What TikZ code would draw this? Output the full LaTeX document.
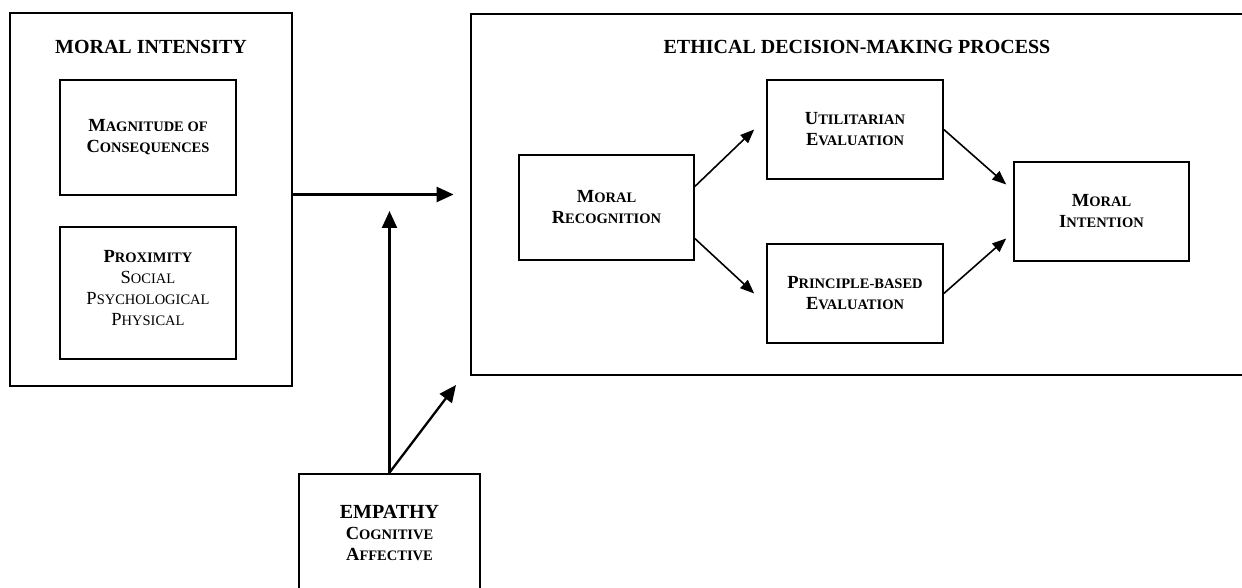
\documentclass[tikz,border=0pt]{standalone}
\usepackage{fontspec}
\setmainfont{Liberation Serif}
\usepackage{tikz}
\usetikzlibrary{arrows.meta}
\usetikzlibrary{positioning}

% fake small caps: first letter full size, rest smaller
\newcommand{\fsc}[2]{#1{\fontsize{14.5}{21}\selectfont #2}}

\begin{document}
\begin{tikzpicture}[x=1pt, y=-1pt, semithick]
  \tikzstyle{frame}=[draw, line width=2.8pt, inner sep=0pt]
  \tikzstyle{box}=[draw, line width=1.6pt, inner sep=0pt, align=center, minimum width=176pt,
                   font=\bfseries\fontsize{18.5}{21}\selectfont]
  \tikzstyle{heading}=[font=\bfseries\fontsize{20}{21}\selectfont, inner sep=0pt]
  \tikzstyle{bigarrow}=[-{Triangle[length=17pt,width=15pt]}, line width=2.3pt]
  \tikzstyle{smallarrow}=[-{Triangle[length=14pt,width=11pt]}, line width=1.6pt]

  \useasboundingbox (0,0) rectangle (1242,588);

  % moral intensity
  \node[frame, minimum width=282pt, minimum height=373pt] (intensity) at (151,199.5) {};
  \node[heading] (intitle) at (151,47) {MORAL INTENSITY};
  \node[box, minimum height=115pt] (magnitude) at (148,137.5) {\fsc{M}{AGNITUDE OF}\\\fsc{C}{ONSEQUENCES}};
  \node[box, minimum height=132pt] (proximity) at (148,293)
    {\fsc{P}{ROXIMITY}\\\mdseries\fsc{S}{OCIAL}\\\mdseries\fsc{P}{SYCHOLOGICAL}\\\mdseries\fsc{P}{HYSICAL}\\[-10pt]};

  % ethical decision-making process
  \node[frame, minimum width=800pt, minimum height=361pt] (process) at (871,194.5) {};
  \node[heading] (proctitle) at (857,47) {ETHICAL DECISION-MAKING PROCESS};
  \node[box, minimum width=175pt, minimum height=105pt] (recog) at (606.5,207.5) {\fsc{M}{ORAL}\\\fsc{R}{ECOGNITION}};
  \node[box, minimum height=99pt] (util) at (855,129.5) {\fsc{U}{TILITARIAN}\\\fsc{E}{VALUATION}};
  \node[box, minimum height=99pt] (principle) at (855,293.5) {\fsc{P}{RINCIPLE-BASED}\\\fsc{E}{VALUATION}};
  \node[box, minimum width=175pt, minimum height=99pt] (intention) at (1101.5,211.5) {\fsc{M}{ORAL}\\\fsc{I}{NTENTION}};

  % empathy
  \node[frame, minimum width=181pt, minimum height=118pt, align=center,
        font=\bfseries\fontsize{18.5}{21}\selectfont] (empathy) at (389.5,533)
    {{\fontsize{20}{21}\selectfont EMPATHY}\\\fsc{C}{OGNITIVE}\\\fsc{A}{FFECTIVE}};

  \coordinate (moderator) at (389.5,211);
  \coordinate (toprocess) at (456,385);

  \draw[bigarrow] (intensity.east |- process.west) -- ([xshift=-16pt]process.west);
  \draw[bigarrow] (empathy.north) -- (moderator);
  \draw[bigarrow] (empathy.north) -- (toprocess);

  \draw[smallarrow] ([yshift=21pt]recog.east) -- ([xshift=-12pt]util.west);
  \draw[smallarrow] ([yshift=-31pt]recog.east) -- ([xshift=-12pt]principle.west);
  \draw[smallarrow] (util.east) -- ([xshift=-7pt,yshift=27pt]intention.west);
  \draw[smallarrow] (principle.east) -- ([xshift=-7pt,yshift=-27pt]intention.west);
\end{tikzpicture}
\end{document}
